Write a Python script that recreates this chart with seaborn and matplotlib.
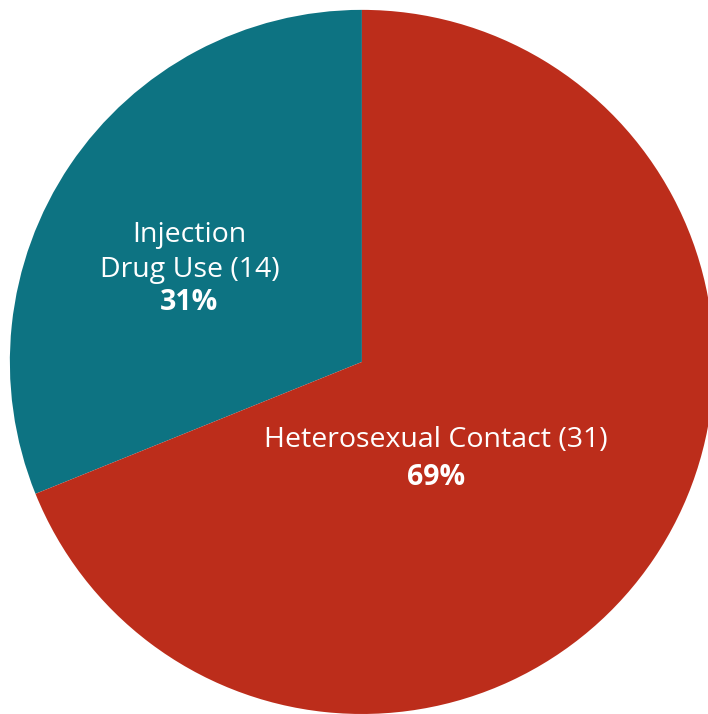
import matplotlib
matplotlib.use("Agg")
import matplotlib.pyplot as plt
import seaborn as sns

categories = ["Injection\nDrug Use (14)", "Heterosexual Contact (31)"]
counts = [14, 31]
percent_labels = ["31%", "69%"]
colors = ["#0D7382", "#BC2D1B"]


def main():
    sns.set_theme(style="white")
    plt.rcParams['font.family'] = ['Open Sans', 'DejaVu Sans']

    fig = plt.figure(figsize=(7.08, 7.14), dpi=100)
    ax = fig.add_axes([0, 0, 1, 1])
    ax.pie(counts, colors=colors, startangle=90, counterclock=True,
           radius=1.0, wedgeprops=dict(linewidth=0))
    ax.set_xlim(-1.028, 0.983)
    ax.set_ylim(-1.0, 1.028)
    ax.set_aspect("equal")
    ax.axis("off")

    # (x, name y, percent y), picked by eye
    spots = [(-0.49, 0.31, 0.168), (0.21, -0.222, -0.327)]
    for name, pct, (x, y, y2) in zip(categories, percent_labels, spots):
        ax.text(x, y, name, ha="center", va="center", color="white",
                fontsize=20.5, linespacing=1.35)
        ax.text(x, y2, pct, ha="center", va="center", color="white",
                fontsize=20.5, fontweight="bold")

    fig.savefig("out.png", dpi=100, facecolor="white")


if __name__ == "__main__":
    main()
